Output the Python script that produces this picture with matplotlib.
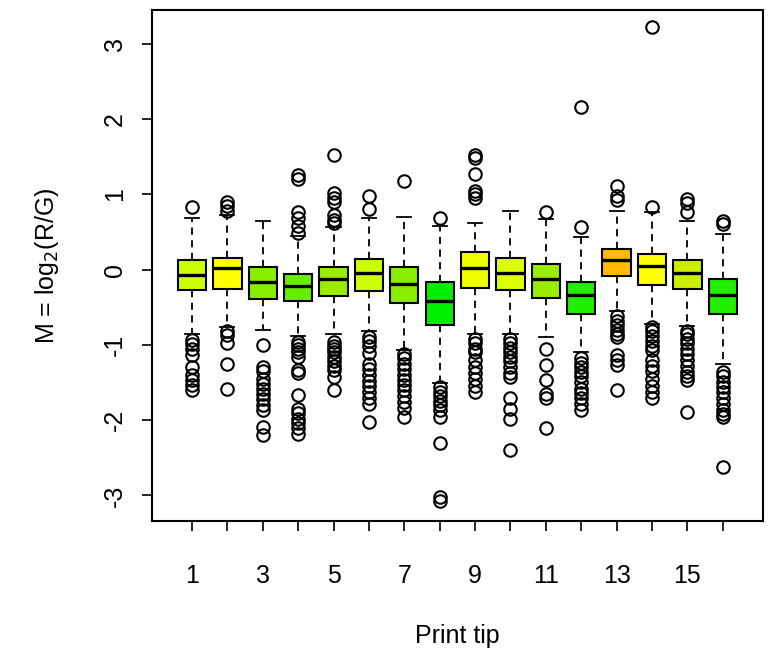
import matplotlib
matplotlib.use("Agg")
import matplotlib.pyplot as plt

plt.rcParams['font.family'] = ['Liberation Sans', 'DejaVu Sans']

tips = list(range(1, 17))
q1 = [-0.27, -0.26, -0.39, -0.42, -0.35, -0.29, -0.45, -0.73,
      -0.25, -0.27, -0.38, -0.59, -0.09, -0.20, -0.26, -0.59]
medians = [-0.07, 0.02, -0.16, -0.22, -0.13, -0.05, -0.19, -0.42,
           0.02, -0.04, -0.12, -0.34, 0.13, 0.05, -0.04, -0.34]
q3 = [0.13, 0.16, 0.03, -0.06, 0.04, 0.14, 0.03, -0.17,
      0.23, 0.16, 0.07, -0.16, 0.27, 0.21, 0.13, -0.12]
whisk_lo = [-0.85, -0.76, -0.80, -0.88, -0.86, -0.82, -1.07, -1.51,
            -0.85, -0.85, -0.90, -1.10, -0.55, -0.72, -0.75, -1.25]
whisk_hi = [0.69, 0.72, 0.65, 0.45, 0.57, 0.68, 0.70, 0.58,
            0.62, 0.78, 0.67, 0.43, 0.78, 0.76, 0.65, 0.47]
outliers = [
    [0.83, -0.94, -0.99, -1.05, -1.14, -1.29, -1.40, -1.47, -1.54, -1.60],
    [0.78, 0.84, 0.90, -0.81, -0.87, -0.98, -1.25, -1.58],
    [-1.00, -1.29, -1.35, -1.45, -1.52, -1.58, -1.65, -1.72, -1.80, -1.87, -2.09, -2.20],
    [1.25, 1.20, 0.76, 0.69, 0.58, 0.49, -0.96, -1.00, -1.05, -1.10, -1.16, -1.34, -1.38,
     -1.67, -1.85, -1.91, -1.98, -2.04, -2.11, -2.18],
    [1.52, 1.02, 0.95, 0.90, 0.72, 0.66, 0.62, -0.96, -1.02, -1.06, -1.10, -1.16, -1.22,
     -1.28, -1.34, -1.43, -1.60],
    [0.98, 0.80, -0.90, -0.95, -1.02, -1.11, -1.25, -1.32, -1.40, -1.48, -1.55, -1.62,
     -1.70, -1.78, -2.02],
    [1.18, -1.12, -1.18, -1.25, -1.32, -1.40, -1.47, -1.53, -1.60, -1.68, -1.76, -1.84, -1.96],
    [0.68, -1.56, -1.62, -1.68, -1.74, -1.80, -1.87, -1.96, -2.31, -3.02, -3.08],
    [1.52, 1.48, 1.27, 1.05, 1.00, 0.95, -0.92, -0.98, -1.05, -1.10, -1.20, -1.30,
     -1.37, -1.45, -1.55, -1.62],
    [-0.92, -0.98, -1.04, -1.10, -1.16, -1.22, -1.30, -1.37, -1.43, -1.71, -1.85, -1.98, -2.40],
    [0.76, -1.05, -1.27, -1.47, -1.65, -1.71, -2.11],
    [2.16, 0.56, -1.18, -1.24, -1.30, -1.36, -1.42, -1.50, -1.58, -1.64, -1.70, -1.78, -1.87],
    [1.11, 0.98, 0.92, -0.62, -0.68, -0.74, -0.80, -0.86, -0.90, -1.14, -1.20, -1.27, -1.60],
    [3.22, 0.83, -0.76, -0.82, -0.88, -0.95, -1.02, -1.07, -1.20, -1.28, -1.35, -1.45,
     -1.55, -1.62, -1.71],
    [0.94, 0.89, 0.76, -0.81, -0.86, -0.92, -0.98, -1.05, -1.12, -1.20, -1.28, -1.36,
     -1.42, -1.47, -1.89],
    [0.65, 0.60, -1.36, -1.42, -1.50, -1.56, -1.62, -1.70, -1.78, -1.86, -1.92, -1.96, -2.62],
]
colors = ['#ccff00', '#ffff00', '#88ee00', '#66ee00', '#99ee00', '#ccff00', '#88ee00', '#00ee00',
          '#eeff00', '#ddff00', '#99ee00', '#22ee00', '#ffbb00', '#ffff00', '#ccee00', '#22ee00']

stats = []
for i in range(len(tips)):
    stats.append({'med': medians[i], 'q1': q1[i], 'q3': q3[i],
                  'whislo': whisk_lo[i], 'whishi': whisk_hi[i],
                  'fliers': outliers[i]})

fig = plt.figure(figsize=(7.7, 6.57), dpi=100)
ax = fig.add_axes([0.197, 0.207, 0.794, 0.778])

bp = ax.bxp(stats, positions=tips, widths=0.8, patch_artist=True,
            boxprops=dict(edgecolor='black', linewidth=1.5),
            medianprops=dict(color='black', linewidth=2.4),
            whiskerprops=dict(color='black', linewidth=1.3, linestyle=(0, (4, 3))),
            capprops=dict(color='black', linewidth=1.3),
            capwidths=0.4,
            flierprops=dict(marker='o', markerfacecolor='none', markeredgecolor='black',
                            markersize=9, markeredgewidth=1.5))
for patch, c in zip(bp['boxes'], colors):
    patch.set_facecolor(c)

ax.set_xlim(-0.14, 17.14)
ax.set_ylim(-3.34, 3.45)
ax.set_xticks(tips)
ax.set_xticklabels([str(t) if t % 2 == 1 else '' for t in tips])
ax.set_yticks([-3, -2, -1, 0, 1, 2, 3])
ax.set_yticklabels(['-3', '-2', '-1', '0', '1', '2', '3'], rotation=90, va='center')
ax.tick_params(direction='out', length=7, width=1.2, labelsize=18)
ax.tick_params(axis='x', pad=24)
ax.tick_params(axis='y', pad=11)
for s in ax.spines.values():
    s.set_linewidth(1.5)

ax.set_xlabel('Print tip', fontsize=18, labelpad=26)
ax.set_ylabel(r'M = log$_2$(R/G)', fontsize=18, labelpad=30)

fig.savefig('out.png', dpi=100)
